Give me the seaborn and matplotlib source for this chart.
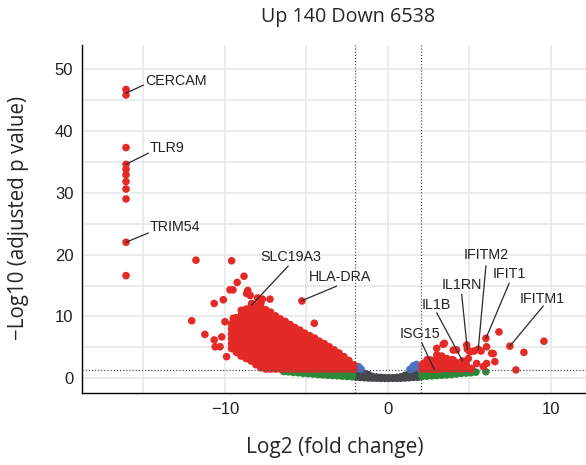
import numpy as np
import pandas as pd
import matplotlib
matplotlib.use("Agg")
import matplotlib.pyplot as plt
import seaborn as sns

# ---- data ----
# isolated strongly down-regulated genes (log2FC, -log10 padj)
down_out_x = [-16.07, -16.07, -16.07, -16.07, -16.07, -16.07, -16.07, -16.07, -16.07, -16.07, -16.07,
              -11.78, -9.59, -8.83, -9.25, -9.69, -9.51, -10.66, -10.10, -12.04, -11.23, -10.66,
              -9.90, -9.02, -7.24, -5.28, -8.67, -8.36, -9.49, -8.77, -10.30, -10.20, -10.60,
              -10.00, -8.60, -8.45, -8.00, -7.70, -4.52]
down_out_y = [46.7, 45.8, 37.3, 34.6, 33.8, 32.9, 31.8, 30.6, 29.0, 22.0, 16.6,
              19.1, 19.0, 16.5, 15.5, 14.3, 14.3, 12.1, 12.7, 9.3, 7.1, 6.2,
              3.5, 3.6, 12.8, 12.5, 13.7, 12.1, 9.7, 10.0, 5.1, 6.7, 5.1,
              9.15, 14.2, 13.4, 13.0, 12.8, 8.9]

# dense down-regulated cloud, one column of y values per x position
blob_col_x = [-9.6, -9.3, -9.0, -8.7, -8.4, -8.1, -7.8, -7.5, -7.2, -6.9, -6.6, -6.3, -6.0,
              -5.7, -5.4, -5.1, -4.8, -4.5, -4.2, -3.9, -3.6, -3.3, -3.0, -2.7, -2.4, -2.1]
blob_col_y = [
    [4.8, 5.6, 6.4, 7.2, 8.0, 8.8],
    [4.2, 5.0, 5.8, 6.6, 7.4, 8.2, 9.0, 9.8],
    [3.8, 4.6, 5.4, 6.2, 7.0, 7.8, 8.6, 9.4, 10.2, 11.0],
    [3.2, 4.0, 4.8, 5.6, 6.4, 7.2, 8.0, 8.8, 9.6, 10.4, 11.2],
    [2.8, 3.6, 4.4, 5.2, 6.0, 6.8, 7.6, 8.4, 9.2, 10.0, 10.8, 11.6],
    [2.2, 3.0, 3.8, 4.6, 5.4, 6.2, 7.0, 7.8, 8.6, 9.4, 10.2, 11.0, 11.8],
    [1.7, 2.5, 3.3, 4.1, 4.9, 5.7, 6.5, 7.3, 8.1, 8.9, 9.7, 10.5, 11.3, 12.1],
    [1.5, 2.3, 3.1, 3.9, 4.7, 5.5, 6.3, 7.1, 7.9, 8.7, 9.5, 10.3, 11.1],
    [1.5, 2.3, 3.1, 3.9, 4.7, 5.5, 6.3, 7.1, 7.9, 8.7, 9.5, 10.3, 10.7],
    [1.5, 2.3, 3.1, 3.9, 4.7, 5.5, 6.3, 7.1, 7.9, 8.7, 9.5, 10.1],
    [1.5, 2.3, 3.1, 3.9, 4.7, 5.5, 6.3, 7.1, 7.9, 8.7, 9.6],
    [1.5, 2.3, 3.1, 3.9, 4.7, 5.5, 6.3, 7.1, 7.9, 8.7, 9.2],
    [1.5, 2.3, 3.1, 3.9, 4.7, 5.5, 6.3, 7.1, 7.9, 8.7],
    [1.5, 2.3, 3.1, 3.9, 4.7, 5.5, 6.3, 7.1, 7.9, 8.2],
    [1.5, 2.3, 3.1, 3.9, 4.7, 5.5, 6.3, 7.1, 7.8],
    [1.5, 2.3, 3.1, 3.9, 4.7, 5.5, 6.3, 7.0, 7.3],
    [1.5, 2.3, 3.1, 3.9, 4.7, 5.5, 6.3, 6.9],
    [1.5, 2.3, 3.1, 3.9, 4.7, 5.5, 6.1, 6.5],
    [1.5, 2.3, 3.1, 3.9, 4.7, 5.4, 6.0],
    [1.5, 2.3, 3.1, 3.9, 4.7, 5.3, 5.6],
    [1.5, 2.3, 3.1, 3.9, 4.6, 5.1],
    [1.5, 2.3, 3.1, 3.9, 4.6],
    [1.5, 2.3, 3.1, 3.7, 4.1],
    [1.5, 2.3, 3.0, 3.5],
    [1.5, 2.2, 2.9],
    [1.5, 2.2],
]

# fold change only (green), left and right of the cut-offs
green_col_x = [-6.4, -6.1, -5.8, -5.5, -5.2, -4.9, -4.6, -4.3, -4.0, -3.7, -3.4, -3.1, -2.8, -2.5, -2.2,
               2.1, 2.4, 2.7, 3.0, 3.3, 3.6, 3.9, 4.2, 4.5, 4.8, 5.1, 5.4, 6.01]
green_col_y = [
    [1.1], [1.05], [0.95, 1.15], [0.9, 1.15], [0.8, 1.1], [0.75, 1.1], [0.7, 1.05], [0.6, 1.05],
    [0.55, 1.0], [0.5, 0.95], [0.45, 0.9, 1.15], [0.4, 0.85, 1.15], [0.35, 0.8, 1.15],
    [0.3, 0.75, 1.15], [0.25, 0.7, 1.15],
    [0.3, 0.8, 1.15], [0.35, 0.85, 1.15], [0.4, 0.9, 1.15], [0.45, 0.95, 1.15], [0.5, 1.0],
    [0.55, 1.0], [0.6, 1.05], [0.7, 1.05], [0.8, 1.1], [0.85, 1.1], [0.9, 1.15], [1.0], [1.07],
]

# not significant (grey)
grey_col_x = [-1.95, -1.7, -1.45, -1.2, -0.95, -0.7, -0.45, -0.2, 0.05, 0.3, 0.55, 0.8,
              1.05, 1.3, 1.55, 1.8, 1.95]
grey_col_y = [
    [0.2, 0.65, 1.1], [0.15, 0.55, 0.95], [0.1, 0.45, 0.8], [0.05, 0.35, 0.6], [0.03, 0.3],
    [0.02, 0.2], [0.0, 0.15], [0.0, 0.1], [0.0, 0.08], [0.0, 0.1], [0.0, 0.15], [0.02, 0.25],
    [0.05, 0.3, 0.5], [0.1, 0.4, 0.7], [0.15, 0.5, 0.9], [0.2, 0.6, 1.05], [0.25, 0.7, 1.15],
]

# p value only (blue)
blue_x = [-1.9, -1.8, -1.65, 1.35, 1.55, 1.55, 1.75, 1.75, 1.9]
blue_y = [1.6, 1.9, 1.5, 1.45, 1.6, 2.0, 1.8, 2.25, 1.6]

# up-regulated (red, right side)
up_x = [3.46, 2.99, 4.01, 4.83, 5.28, 5.71, 6.01, 6.36, 6.56, 6.05, 5.44, 4.93, 4.52, 4.01,
        3.19, 2.58, 2.17, 3.60, 2.78, 4.42, 5.13, 5.85, 6.81, 9.57, 7.48, 8.34, 7.85,
        5.54, 4.87, 4.58, 2.84, 3.39, 4.21, 5.03, 6.05, 6.46,
        2.1, 2.1, 2.4, 2.4, 2.4, 2.7, 2.7, 2.7, 3.0, 3.0, 3.0, 3.0, 3.3, 3.3, 3.3, 3.3,
        3.6, 3.6, 3.6, 3.9, 3.9, 3.9, 4.2, 4.2, 4.5, 4.5, 4.8, 4.8, 5.1]
up_y = [5.66, 4.85, 4.57, 5.38, 4.41, 4.41, 6.47, 4.04, 2.7, 2.4, 2.4, 3.2, 2.7, 2.96,
        3.5, 2.96, 2.4, 1.9, 1.9, 1.6, 1.6, 1.9, 7.5, 6.0, 5.2, 4.2, 1.35,
        4.7, 4.7, 2.8, 1.45, 5.5, 4.6, 4.3, 5.1, 4.0,
        1.5, 2.2, 1.5, 2.3, 3.0, 1.5, 2.2, 2.9, 1.5, 2.3, 3.1, 3.8, 1.5, 2.2, 3.0, 3.6,
        1.6, 2.4, 3.2, 1.5, 2.3, 3.0, 1.6, 2.5, 1.5, 2.1, 1.6, 2.3, 1.5]

# labelled genes: point, end of connector, text position
lab_names = ["CERCAM", "TLR9", "TRIM54", "SLC19A3", "HLA-DRA",
             "IFITM2", "IFIT1", "IL1RN", "IL1B", "ISG15", "IFITM1"]
lab_px = [-16.07, -16.07, -16.07, -8.36, -5.28, 5.54, 6.01, 4.87, 4.58, 2.84, 7.48]
lab_py = [46.1, 34.6, 22.0, 11.85, 12.55, 4.7, 6.47, 4.7, 2.8, 1.45, 5.2]
lab_ex = [-15.0, -14.7, -14.7, -6.12, -3.15, 6.01, 7.44, 4.52, 2.99, 2.07, 9.53]
lab_ey = [47.4, 36.4, 23.5, 18.15, 14.9, 18.2, 15.4, 13.6, 10.6, 5.76, 11.7]
lab_tx = [-14.9, -14.6, -14.6, -5.96, -2.93, 6.03, 7.42, 4.53, 2.97, 1.94, 9.47]
lab_ty = [48.1, 37.2, 24.4, 19.6, 16.4, 19.9, 16.9, 15.1, 11.85, 7.16, 12.9]
lab_ha = ["left", "left", "left", "center", "center",
          "center", "center", "center", "center", "center", "center"]

# ---- build the table ----
def cols_to_xy(cx, cy):
    xs, ys = [], []
    for x, col in zip(cx, cy):
        xs += [x] * len(col)
        ys += col
    return xs, ys

gx, gy = cols_to_xy(grey_col_x, grey_col_y)
fx, fy = cols_to_xy(green_col_x, green_col_y)
bx, by = cols_to_xy(blob_col_x, blob_col_y)

df = pd.concat([
    pd.DataFrame({"lfc": gx, "nlp": gy, "grp": "NS"}),
    pd.DataFrame({"lfc": fx, "nlp": fy, "grp": "Log2FC"}),
    pd.DataFrame({"lfc": blue_x, "nlp": blue_y, "grp": "p-value"}),
    pd.DataFrame({"lfc": bx + down_out_x + up_x, "nlp": by + down_out_y + up_y, "grp": "both"}),
], ignore_index=True)

pal = {"NS": "#45494c", "Log2FC": "#2b8a3a", "p-value": "#4a72c8", "both": "#e42a27"}

sns.set_style("white")
plt.rcParams["font.family"] = ["Liberation Sans", "DejaVu Sans"]

fig = plt.figure(figsize=(5.86, 4.65), dpi=100)
ax = fig.add_axes([0.1394, 0.1542, 0.8606, 0.7490])

sns.scatterplot(data=df, x="lfc", y="nlp", hue="grp", palette=pal, s=30,
                linewidth=0, legend=False, ax=ax, zorder=3)

ax.set_xticks([-10, 0, 10])
ax.set_xticks([-15, -5, 5], minor=True)
ax.set_yticks([0, 10, 20, 30, 40, 50])
ax.set_yticks([5, 15, 25, 35, 45], minor=True)
ax.set_xlim(-18.79, 12.15)
ax.set_ylim(-2.42, 53.88)
ax.grid(True, which="both", color="#e8e8e8", linewidth=1.2, zorder=0)
ax.set_axisbelow(True)
ax.tick_params(which="major", direction="out", length=4, width=1, color="black",
               labelsize=12, labelcolor="#222222", pad=2)
ax.tick_params(which="minor", length=0)
for s in ["top", "right"]:
    ax.spines[s].set_visible(False)
for s in ["left", "bottom"]:
    ax.spines[s].set_color("black")
    ax.spines[s].set_linewidth(1.0)

ax.axvline(-2, color="#555555", linestyle=(0, (1, 1.5)), linewidth=0.9, zorder=2)
ax.axvline(2, color="#555555", linestyle=(0, (1, 1.5)), linewidth=0.9, zorder=2)
ax.axhline(1.3, color="#555555", linestyle=(0, (1, 1.5)), linewidth=0.9, zorder=4)

for name, px, py, ex, ey, tx, ty, ha in zip(lab_names, lab_px, lab_py, lab_ex, lab_ey,
                                             lab_tx, lab_ty, lab_ha):
    ax.plot([px, ex], [py, ey], color="#2a2a2a", linewidth=0.9, zorder=5)
    ax.text(tx, ty, name, ha=ha, va="center", fontsize=10.3, color="#222222", zorder=6)

ax.set_xlabel("")
ax.set_ylabel("")
fig.text(0.5717, 0.0387, "Log2 (fold change)", ha="center", va="center",
         fontsize=15, family="Open Sans", color="#262626")
fig.text(0.031, 0.531, "\u2212Log10 (adjusted p value)", ha="center", va="center",
         rotation=90, fontsize=14.8, family="Open Sans", color="#262626")
fig.text(0.5947, 0.963, "Up 140 Down 6538", ha="center", va="center",
         fontsize=14.2, family="Open Sans", color="#262626")

fig.savefig("out.png", dpi=100)
